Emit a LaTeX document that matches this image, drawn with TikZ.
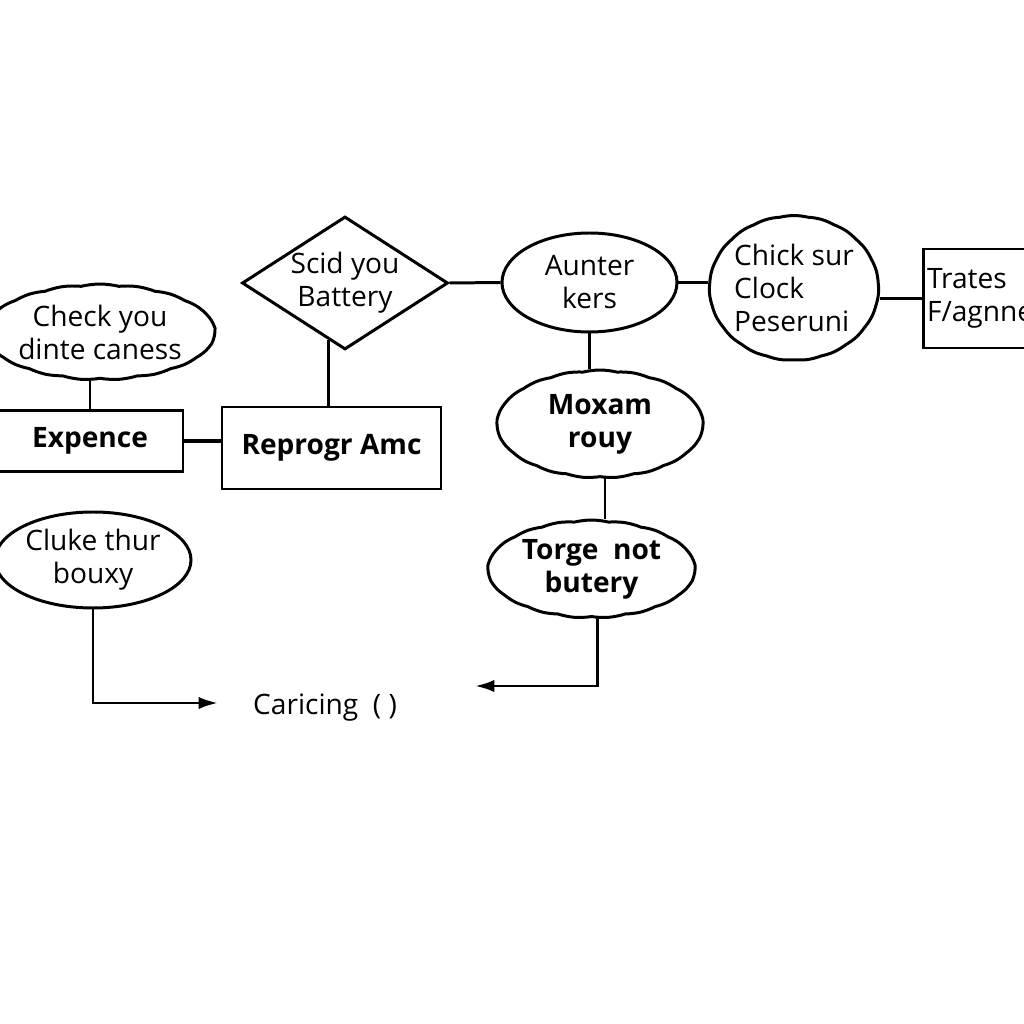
\documentclass[tikz,border=0pt]{standalone}
\usepackage{fontspec}
\setmainfont{Open Sans}
\usetikzlibrary{shapes.geometric,shapes.symbols,arrows.meta}

\begin{document}
\begin{tikzpicture}[font=\fontsize{8}{9.4}\selectfont, line width=0.85pt,
  >={Latex[length=5.5pt,width=3.5pt]},
  box/.style={draw,rectangle,align=center,inner sep=1pt},
  boxb/.style={box,font=\fontsize{8}{9.4}\selectfont\bfseries},
  boxl/.style={box,align=left,text width=2.6cm},
  oval/.style={draw,ellipse,align=center,inner sep=0pt},
  blob/.style={draw,cloud,cloud ignores aspect,cloud puffs=19,cloud puff arc=28,align=center,inner sep=0pt},
  blobb/.style={blob,font=\fontsize{8}{9.4}\selectfont\bfseries},
  blobl/.style={blob,align=left},
  diam/.style={draw,diamond,aspect=1.55,align=center,inner sep=0pt}]
\useasboundingbox (0,0) rectangle (10.24,10.24);
\node[blob,minimum width=2.18cm,minimum height=0.96cm] (check) at (1.00,6.92) {Check you\\dinte caness};
\node[boxb,minimum width=1.86cm,minimum height=0.61cm] (expence) at (0.90,5.83) {Expence};
\node[boxb,minimum width=2.19cm,minimum height=0.82cm] (repro) at (3.315,5.76) {Reprogr Amc};
\node[diam,minimum width=2.06cm,minimum height=1.33cm] (dia) at (3.45,7.41) {Scid you\\Battery};
\node[oval,minimum width=1.75cm,minimum height=0.99cm] (aunt) at (5.895,7.415) {Aunter\\kers};
\node[blobl,minimum width=1.56cm,minimum height=1.45cm] (chick) at (7.94,7.36) {Chick sur\\Clock\\Peseruni};
\node[boxl,minimum height=0.99cm] (trates) at (10.57,7.255) {Trates\\F/agnne};
\node[blobb,minimum width=2.06cm,minimum height=1.08cm] (mox) at (6.00,6.00) {Moxam\\rouy};
\node[blobb,minimum width=2.07cm,minimum height=0.98cm] (torge) at (5.915,4.55) {Torge\ \ not\\butery};
\node[oval,minimum width=1.96cm,minimum height=0.96cm] (cluke) at (0.93,4.64) {Cluke thur\\bouxy};
\node (cari) at (3.25,3.16) {Caricing\ \ ( )};
\coordinate (tipL) at (2.18,3.21);
\coordinate (tipR) at (4.75,3.38);
\draw (expence.north) -- (expence.north |- check.south);
\draw[line width=1.1pt] (expence.east) -- (expence.east -| repro.west);
\draw (dia.-106) -- (dia.-106 |- repro.north);
\draw (dia.east) -- (aunt.west);
\draw (aunt.east) -- (aunt.east -| chick.west);
\draw (trates.west -| chick.east) -- (trates.west);
\draw (aunt.south) -- (aunt.south |- mox.north);
\draw ([xshift=0.05cm]mox.south) -- ([xshift=0.05cm]mox.south |- torge.north);
\draw[->] ([xshift=0.06cm]torge.south) |- (tipR);
\draw[->] (cluke.south) |- (tipL);
\end{tikzpicture}
\end{document}
